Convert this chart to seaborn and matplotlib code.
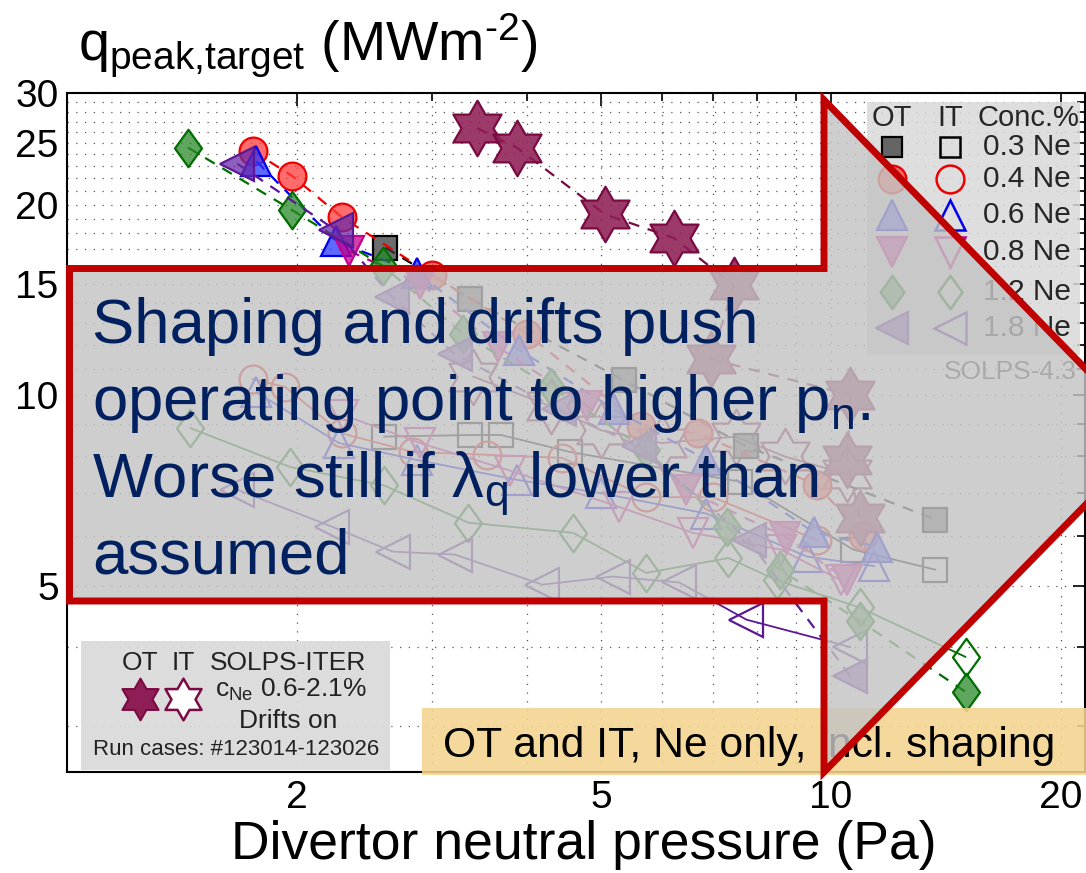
import numpy as np
import matplotlib
matplotlib.use("Agg")
import matplotlib.pyplot as plt
import seaborn as sns
from matplotlib.patches import Polygon, Rectangle
from matplotlib.path import Path
from matplotlib.ticker import NullFormatter

# ---------------- data: divertor neutral pressure (Pa) vs peak target heat flux (MW/m2)
# SOLPS-4.3, outer target (OT, filled, dashed) and inner target (IT, open, solid)
ne03_ot_p = [2.61, 3.37, 5.36, 7.75, 13.7]
ne03_ot_q = [17.1, 14.2, 10.55, 8.3, 6.36]
ne03_it_p = [2.6, 3.37, 3.7, 4.56, 7.6, 10.7, 13.7]
ne03_it_q = [8.6, 8.65, 8.65, 8.13, 7.3, 5.7, 5.3]

ne04_ot_p = [1.75, 1.97, 2.29, 3.0, 4.0, 5.64, 6.7, 9.6, 11.0]
ne04_ot_q = [24.3, 22.2, 19.1, 15.5, 12.5, 8.95, 8.7, 7.2, 6.0]
ne04_it_p = [1.75, 1.93, 2.29, 2.84, 3.55, 4.45, 5.73, 7.0, 9.6]
ne04_it_q = [10.6, 10.3, 8.7, 8.13, 8.05, 7.96, 6.9, 6.9, 5.9]

ne06_ot_p = [1.77, 2.25, 2.87, 3.9, 5.2, 6.87, 9.5, 11.5]
ne06_ot_q = [23.4, 17.5, 15.6, 11.8, 9.5, 7.9, 6.07, 5.76]
ne06_it_p = [1.77, 2.27, 2.87, 3.88, 5.0, 6.87, 9.3, 11.4]
ne06_it_q = [10.1, 8.4, 7.9, 7.35, 7.0, 6.5, 5.56, 5.37]

ne08_ot_p = [2.34, 2.9, 3.67, 4.8, 6.46, 8.7, 10.5]
ne08_ot_q = [16.9, 15.0, 11.9, 9.6, 7.08, 5.98, 5.1]
ne08_it_p = [2.3, 2.9, 3.8, 5.28, 6.6, 8.6, 10.3]
ne08_it_q = [9.3, 8.4, 7.6, 6.66, 6.06, 5.7, 5.1]

ne12_ot_p = [1.44, 1.97, 2.59, 3.3, 4.3, 5.73, 7.3, 8.57, 10.9, 15.0]
ne12_ot_q = [24.6, 19.6, 16.0, 12.5, 10.3, 8.2, 6.2, 5.3, 4.4, 3.4]
ne12_it_p = [1.45, 1.96, 2.6, 3.35, 4.6, 5.73, 7.34, 8.5, 10.9, 15.0]
ne12_it_q = [8.87, 7.7, 7.2, 6.29, 6.06, 5.24, 5.53, 5.1, 4.62, 3.86]

ne18_ot_p = [1.67, 2.25, 2.66, 3.22, 4.4, 5.6, 7.8, 10.6]
ne18_ot_q = [23.2, 18.2, 14.3, 11.6, 9.5, 8.3, 5.9, 3.6]
ne18_it_p = [1.67, 2.22, 2.67, 3.22, 4.19, 5.18, 6.33, 7.75, 10.6]
ne18_it_q = [7.09, 6.2, 5.66, 5.6, 5.02, 5.17, 5.06, 4.42, 4.0]

# SOLPS-ITER with drifts
iter_ot_p = [3.44, 3.88, 5.06, 6.23, 7.46, 6.97, 10.6, 10.5, 10.9]
iter_ot_q = [26.4, 24.6, 19.3, 17.7, 14.9, 11.4, 10.0, 7.9, 6.4]
iter_it_p = [3.4, 4.3, 5.0, 6.0, 7.5, 8.7, 10.5]
iter_it_q = [10.7, 9.6, 8.8, 8.4, 8.6, 8.0, 7.5]

conc_labels = ["0.3 Ne", "0.4 Ne", "0.6 Ne", "0.8 Ne", "1.2 Ne", "1.8 Ne"]
xtick_vals = [2, 5, 10, 20]
xtick_minor = [3, 4, 6, 7, 8, 9]
ytick_vals = [5, 10, 15, 20, 25, 30]
ytick_minor = [v for v in range(3, 30) if v not in ytick_vals]

# ---------------- marker shapes
def closed(verts):
    v = np.asarray(verts, float)
    return Path(np.vstack([v, v[:1]]), closed=True)

_ang = np.deg2rad(90 + np.arange(12) * 30)
_rad = np.where(np.arange(12) % 2 == 0, 1.0, 0.577)
HEXAGRAM = closed(np.column_stack([_rad * np.cos(_ang), _rad * np.sin(_ang)]))
DIAMOND = closed([(0, 1), (0.72, 0), (0, -1), (-0.72, 0)])

# (OT p, OT q, IT p, IT q, marker, size, face, edge)
series = [
    (ne03_ot_p, ne03_ot_q, ne03_it_p, ne03_it_q, "s", 17, "#3c3c3c", "#000000"),
    (ne04_ot_p, ne04_ot_q, ne04_it_p, ne04_it_q, "o", 20, "#ff3b3b", "#ee0000"),
    (ne06_ot_p, ne06_ot_q, ne06_it_p, ne06_it_q, "^", 22, "#2a36ff", "#0000ee"),
    (ne08_ot_p, ne08_ot_q, ne08_it_p, ne08_it_q, "v", 22, "#c4008c", "#c4008c"),
    (ne12_ot_p, ne12_ot_q, ne12_it_p, ne12_it_q, DIAMOND, 27, "#2a8a2a", "#006e00"),
    (ne18_ot_p, ne18_ot_q, ne18_it_p, ne18_it_q, "<", 24, "#6a2aa8", "#5a1898"),
]
STAR_FACE, STAR_EDGE = "#8e1e55", "#7a0a42"

# ---------------- style
sns.set_theme(style="whitegrid")
plt.rcParams["font.family"] = ["Liberation Sans", "DejaVu Sans"]
plt.rcParams["mathtext.fontset"] = "custom"
plt.rcParams["mathtext.rm"] = "Liberation Sans"
plt.rcParams["mathtext.it"] = "Liberation Sans:italic"

W, H = 1086, 873
fig = plt.figure(figsize=(W / 100, H / 100), dpi=100)
ax = fig.add_axes([67 / W, 1 - 772 / H, (1085 - 67) / W, (772 - 93) / H])
ax.set_xscale("log")
ax.set_yscale("log")

def to_rgba(c, a):
    return matplotlib.colors.to_rgba(c, a)

for ot_p, ot_q, it_p, it_q, mk, ms, face, edge in series:
    sns.lineplot(x=it_p, y=it_q, ax=ax, sort=False, estimator=None,
                 color=edge, linewidth=1.3, linestyle="-",
                 marker=mk, markersize=ms, markerfacecolor="none",
                 markeredgecolor=edge, markeredgewidth=1.6, zorder=3)
    sns.lineplot(x=ot_p, y=ot_q, ax=ax, sort=False, estimator=None,
                 color=edge, linewidth=1.6, linestyle=(0, (5, 4)),
                 marker=mk, markersize=ms, markerfacecolor=to_rgba(face, 0.75),
                 markeredgecolor=edge, markeredgewidth=1.6, zorder=4)

sns.lineplot(x=iter_it_p, y=iter_it_q, ax=ax, sort=False, estimator=None,
             color=STAR_EDGE, linewidth=1.3, linestyle="-",
             marker=HEXAGRAM, markersize=40, markerfacecolor="none",
             markeredgecolor=STAR_EDGE, markeredgewidth=1.6, zorder=3)
sns.lineplot(x=iter_ot_p, y=iter_ot_q, ax=ax, sort=False, estimator=None,
             color=STAR_EDGE, linewidth=1.6, linestyle=(0, (5, 4)),
             marker=HEXAGRAM, markersize=40, markerfacecolor=to_rgba(STAR_FACE, 0.88),
             markeredgecolor=STAR_EDGE, markeredgewidth=1.6, zorder=4)

ax.set_xlim(1.0, 21.5)
ax.set_ylim(2.54, 30)
ax.set_xticks(xtick_vals, labels=[str(v) for v in xtick_vals])
ax.set_xticks(xtick_minor, minor=True)
ax.set_yticks(ytick_vals, labels=[str(v) for v in ytick_vals])
ax.set_yticks(ytick_minor, minor=True)
ax.xaxis.set_minor_formatter(NullFormatter())
ax.yaxis.set_minor_formatter(NullFormatter())
ax.tick_params(which="both", direction="in", top=True, right=True,
               colors="black", width=1.2, labelsize=28)
ax.tick_params(which="major", length=9)
ax.tick_params(which="minor", length=6)
ax.tick_params(axis="x", pad=6)
ax.tick_params(axis="y", pad=6)
ax.grid(True, which="both", color="#555555", linestyle=(0, (1, 6)), linewidth=0.9)
for sp in ax.spines.values():
    sp.set_color("black")
    sp.set_linewidth(1.5)

ax.set_xlabel("Divertor neutral pressure (Pa)", fontsize=38.5, color="black")
ax.xaxis.set_label_coords((584 - 67) / 1018, -0.071)
ax.xaxis.label.set_va("top")
ax.set_ylabel("q$_\\mathregular{peak{,}target}$ (MWm$^\\mathregular{\u20102}$)",
              rotation=0, ha="left", va="baseline", fontsize=40, color="black")
ax.yaxis.set_label_coords(11 / 1018, (772 - 60) / 679)

# ---------------- overlay in pixel coordinates: legends, notes and the arrow
ov = fig.add_axes([0, 0, 1, 1], zorder=2)
ov.set_xlim(0, W)
ov.set_ylim(H, 0)
ov.axis("off")

# SOLPS-4.3 legend
ov.add_patch(Rectangle((867, 102), 213, 253, facecolor="#d9d9d9", alpha=0.85,
                       edgecolor="none", zorder=1))
ov.text(892, 118, "OT", ha="center", va="center", fontsize=21, zorder=2)
ov.text(950, 118, "IT", ha="center", va="center", fontsize=21, zorder=2)
ov.text(1028, 118, "Conc.%", ha="center", va="center", fontsize=21, zorder=2)
row_y = [147, 179, 215, 252, 292, 328]
leg_sizes = [15, 20, 21, 21, 24, 23]
for (ot_p, ot_q, it_p, it_q, mk, ms, face, edge), lab, yy, ls in zip(series, conc_labels, row_y, leg_sizes):
    ov.plot([892], [yy], marker=mk, markersize=ls, markerfacecolor=to_rgba(face, 0.75),
            markeredgecolor=edge, markeredgewidth=1.6, linestyle="none", zorder=2)
    ov.plot([950], [yy], marker=mk, markersize=ls, markerfacecolor="none",
            markeredgecolor=edge, markeredgewidth=1.8, linestyle="none", zorder=2)
    ov.text(983, yy, lab, ha="left", va="center", fontsize=21.5, zorder=2)
ov.text(1010, 372, "SOLPS-4.3", ha="center", va="center", fontsize=19, color="#333333", zorder=2)

# SOLPS-ITER legend
ov.add_patch(Rectangle((81, 641), 309, 129, facecolor="#d9d9d9", alpha=0.9,
                       edgecolor="none", zorder=1))
ov.text(140, 663, "OT", ha="center", va="center", fontsize=19, color="#222222", zorder=2)
ov.text(183, 663, "IT", ha="center", va="center", fontsize=19, color="#222222", zorder=2)
ov.text(288, 663, "SOLPS-ITER", ha="center", va="center", fontsize=19, color="#222222", zorder=2)
ov.plot([140], [699], marker=HEXAGRAM, markersize=30, markerfacecolor=STAR_FACE,
        markeredgecolor=STAR_EDGE, markeredgewidth=1.5, linestyle="none", zorder=2)
ov.plot([183], [699], marker=HEXAGRAM, markersize=30, markerfacecolor="white",
        markeredgecolor=STAR_EDGE, markeredgewidth=1.8, linestyle="none", zorder=2)
ov.text(215, 697, r"c$_\mathregular{Ne}$ 0.6-2.1%", ha="left", va="baseline",
        fontsize=19, color="#222222", zorder=2)
ov.text(288, 728, "Drifts on", ha="center", va="baseline", fontsize=19,
        color="#222222", zorder=2)
ov.text(236, 755, "Run cases: #123014-123026", ha="center", va="baseline",
        fontsize=16, color="#222222", zorder=2)

# case note
ov.add_patch(Rectangle((422, 708), 680, 67, facecolor="#f4d48e", alpha=0.88,
                       edgecolor="none", zorder=1))
ov.text(443, 757, "OT and IT, Ne only, incl. shaping", ha="left", va="baseline",
        fontsize=30.7, color="black", zorder=2)

# big arrow
arrow_pts = [(69.5, 268.5), (824, 268.5), (824, 100), (1152, 437),
             (824, 772), (824, 601), (69.5, 601)]
ov.add_patch(Polygon(arrow_pts, closed=True, facecolor=(0.77, 0.77, 0.77, 0.82),
                     edgecolor="#c00000", linewidth=5, joinstyle="miter", zorder=5))
msg = ["Shaping and drifts push",
       r"operating point to higher p$_\mathregular{n}$.",
       r"Worse still if λ$_\mathregular{q}$ lower than",
       "assumed"]
for line, yb in zip(msg, [343, 420, 497, 573]):
    ov.text(92, yb, line, ha="left", va="baseline", fontsize=45.7, color="#002060", zorder=6)

fig.savefig("out.png", dpi=100)
